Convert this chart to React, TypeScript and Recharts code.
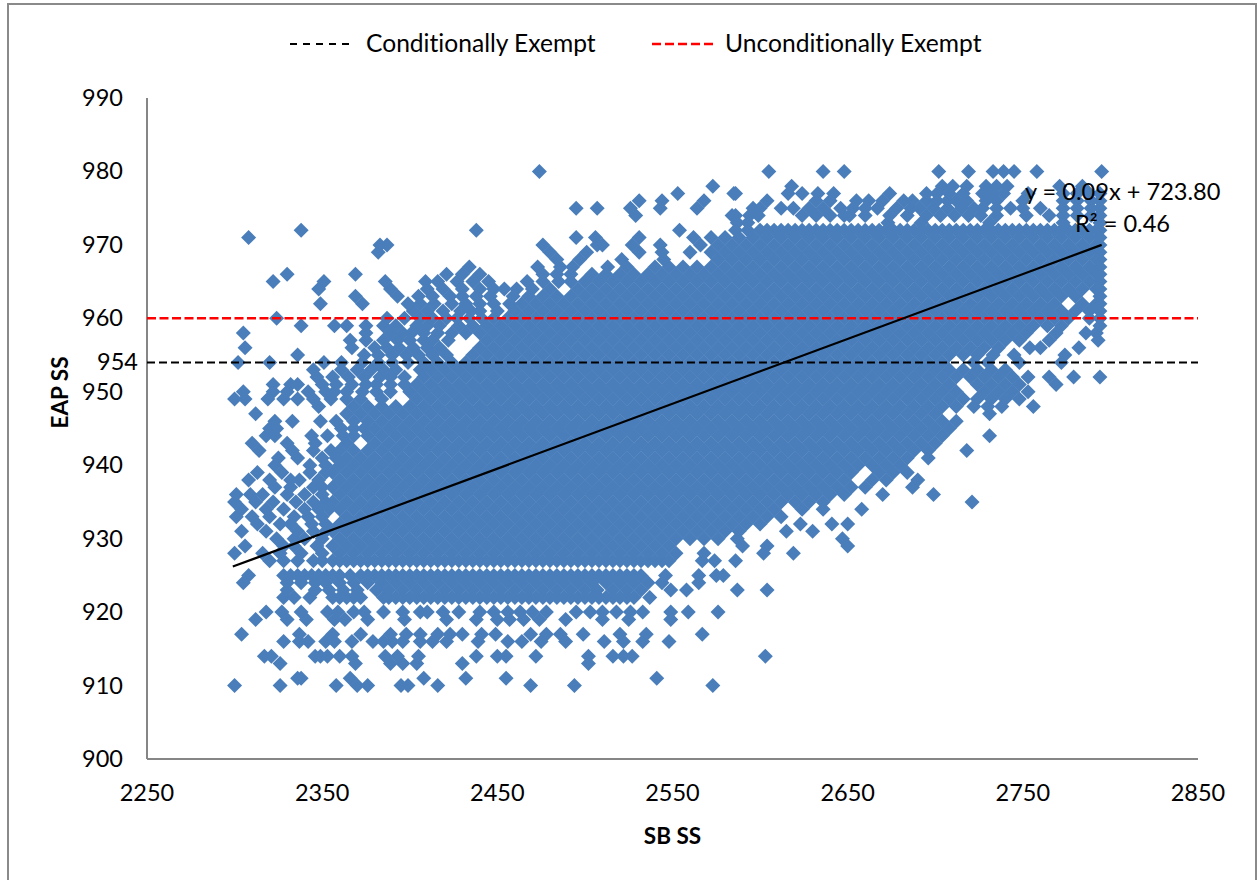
import { Scatter, ScatterChart, XAxis, YAxis } from 'recharts';

const xTicks = [2250, 2350, 2450, 2550, 2650, 2750, 2850];
const yTicks = [900, 910, 920, 930, 940, 950, 954, 960, 970, 980, 990];
const conditionalCut = [{ x: 2250, y: 954 }, { x: 2850, y: 954 }];
const unconditionalCut = [{ x: 2250, y: 960 }, { x: 2850, y: 960 }];
const trendEnds = [{ x: 2299, y: 926.2 }, { x: 2795, y: 970 }];

// each row is [EAP SS, ...SB SS read along that row]; scores are whole numbers so the marks sit in rows.
// the middle of the cloud is solid colour, so those rows are estimates that just cover the area seen.
const sparseLow = [
  [910, 2300, 2326, 2358, 2370, 2376, 2395, 2399, 2416, 2469, 2494, 2573],
  [911, 2336, 2338, 2366, 2408, 2432, 2455, 2541],
  [913, 2326, 2369, 2389, 2396, 2404, 2430, 2502],
  [914, 2317, 2321, 2346, 2349, 2353, 2360, 2367, 2386, 2393, 2405, 2438, 2450, 2455, 2472, 2502, 2516, 2522, 2527, 2603],
  [916, 2328, 2337, 2342, 2352, 2357, 2367, 2379, 2385, 2390, 2396, 2406, 2413, 2421, 2439, 2456, 2464, 2475, 2489, 2511, 2522, 2533, 2548],
  [917, 2304, 2337, 2356, 2372, 2389, 2398, 2406, 2416, 2423, 2430, 2441, 2449, 2469, 2478, 2486, 2499, 2520, 2535, 2567],
  [919, 2312, 2330, 2341, 2357, 2363, 2376, 2397, 2421, 2438, 2450, 2457, 2465, 2474, 2489, 2510, 2525, 2549],
  [920, 2318, 2327, 2338, 2353, 2359, 2368, 2374, 2385, 2396, 2406, 2410, 2419, 2428, 2440, 2448, 2456, 2463, 2470, 2478, 2495, 2503, 2510, 2518, 2526, 2533, 2549, 2559, 2576],
];

const bandLow = [
  [922, 2328, 2334, 2343, 2356, 2360, 2364, 2368, 2372, 2385, 2388, 2392, 2396, 2400, 2404, 2408, 2412, 2416, 2420, 2424, 2428, 2432, 2436, 2440, 2444, 2448, 2452, 2456, 2460, 2464, 2468, 2472, 2476, 2480, 2484, 2488, 2492, 2496, 2500, 2504, 2508, 2512, 2516, 2520, 2524, 2528, 2537],
  [923, 2330, 2346, 2354, 2362, 2370, 2381, 2388, 2396, 2404, 2412, 2420, 2428, 2436, 2444, 2452, 2460, 2468, 2476, 2484, 2492, 2500, 2507, 2516, 2524, 2532, 2549, 2558, 2587, 2604],
  [924, 2305, 2330, 2338, 2346, 2352, 2360, 2368, 2376, 2384, 2392, 2400, 2408, 2416, 2424, 2432, 2440, 2448, 2456, 2464, 2472, 2480, 2488, 2496, 2504, 2512, 2520, 2528, 2536, 2544, 2565],
  [925, 2308, 2328, 2332, 2336, 2340, 2344, 2348, 2352, 2356, 2360, 2366, 2372, 2376, 2380, 2384, 2388, 2392, 2396, 2400, 2404, 2408, 2412, 2416, 2420, 2424, 2428, 2432, 2436, 2440, 2444, 2448, 2452, 2456, 2460, 2464, 2468, 2472, 2476, 2480, 2484, 2488, 2492, 2496, 2500, 2504, 2508, 2512, 2516, 2520, 2524, 2528, 2532, 2546, 2565, 2575, 2579],
];

const coreLow = [
  [927, 2320, 2328, 2336, 2345, 2350, 2356, 2360, 2364, 2368, 2372, 2376, 2380, 2384, 2388, 2392, 2396, 2400, 2404, 2408, 2412, 2416, 2420, 2424, 2428, 2432, 2436, 2440, 2444, 2448, 2452, 2456, 2460, 2464, 2468, 2472, 2476, 2480, 2484, 2488, 2492, 2496, 2500, 2504, 2508, 2512, 2516, 2520, 2524, 2528, 2532, 2536, 2540, 2544, 2548, 2567, 2574, 2586],
  [928, 2300, 2316, 2326, 2338, 2350, 2360, 2368, 2376, 2384, 2392, 2400, 2408, 2416, 2424, 2432, 2440, 2448, 2456, 2464, 2472, 2480, 2488, 2496, 2504, 2512, 2520, 2528, 2536, 2544, 2552, 2568, 2602, 2619],
  [929, 2306, 2328, 2334, 2347, 2356, 2364, 2372, 2380, 2388, 2396, 2404, 2412, 2420, 2428, 2436, 2444, 2452, 2460, 2468, 2476, 2484, 2492, 2500, 2508, 2516, 2524, 2532, 2540, 2548, 2590, 2604, 2650],
  [930, 2324, 2334, 2340, 2350, 2360, 2368, 2376, 2384, 2392, 2400, 2408, 2416, 2424, 2432, 2440, 2448, 2456, 2464, 2472, 2480, 2488, 2496, 2504, 2512, 2520, 2528, 2536, 2544, 2552, 2560, 2568, 2576, 2587, 2647],
  [931, 2304, 2318, 2336, 2345, 2352, 2356, 2364, 2372, 2380, 2388, 2396, 2404, 2412, 2420, 2428, 2436, 2444, 2452, 2460, 2468, 2476, 2484, 2492, 2500, 2508, 2516, 2524, 2532, 2540, 2548, 2556, 2564, 2572, 2580, 2588, 2615, 2630],
  [932, 2313, 2326, 2332, 2344, 2352, 2360, 2368, 2376, 2384, 2392, 2400, 2408, 2416, 2424, 2432, 2440, 2448, 2456, 2464, 2472, 2480, 2488, 2496, 2504, 2512, 2520, 2528, 2536, 2544, 2552, 2560, 2568, 2576, 2584, 2592, 2600, 2623, 2641, 2650],
  [933, 2301, 2310, 2320, 2334, 2342, 2350, 2364, 2372, 2380, 2388, 2396, 2404, 2412, 2420, 2428, 2436, 2444, 2452, 2460, 2468, 2476, 2484, 2492, 2500, 2508, 2516, 2524, 2532, 2540, 2548, 2556, 2564, 2572, 2580, 2588, 2596, 2604, 2612],
  [934, 2304, 2318, 2328, 2340, 2348, 2354, 2360, 2368, 2376, 2384, 2392, 2400, 2408, 2416, 2424, 2432, 2440, 2448, 2456, 2464, 2472, 2480, 2488, 2496, 2504, 2512, 2520, 2528, 2536, 2544, 2552, 2560, 2568, 2576, 2584, 2592, 2600, 2608, 2624, 2636, 2658],
  [935, 2300, 2312, 2322, 2335, 2345, 2352, 2356, 2364, 2372, 2380, 2388, 2396, 2404, 2412, 2420, 2428, 2436, 2444, 2452, 2460, 2468, 2476, 2484, 2492, 2500, 2508, 2516, 2524, 2532, 2540, 2548, 2556, 2564, 2572, 2580, 2588, 2596, 2604, 2612, 2620, 2628, 2636, 2721],
  [936, 2301, 2309, 2316, 2330, 2340, 2350, 2360, 2368, 2376, 2384, 2392, 2400, 2408, 2416, 2424, 2432, 2440, 2448, 2456, 2464, 2472, 2480, 2488, 2496, 2504, 2512, 2520, 2528, 2536, 2544, 2552, 2560, 2568, 2576, 2584, 2592, 2600, 2608, 2616, 2624, 2632, 2640, 2648, 2670, 2699],
  [937, 2323, 2332, 2345, 2350, 2356, 2364, 2372, 2380, 2388, 2396, 2404, 2412, 2420, 2428, 2436, 2444, 2452, 2460, 2468, 2476, 2484, 2492, 2500, 2508, 2516, 2524, 2532, 2540, 2548, 2556, 2564, 2572, 2580, 2588, 2596, 2604, 2612, 2620, 2628, 2636, 2644, 2652, 2660, 2687],
  [938, 2308, 2320, 2332, 2337, 2348, 2360, 2368, 2376, 2384, 2392, 2400, 2408, 2416, 2424, 2432, 2440, 2448, 2456, 2464, 2472, 2480, 2488, 2496, 2504, 2512, 2520, 2528, 2536, 2544, 2552, 2560, 2568, 2576, 2584, 2592, 2600, 2608, 2616, 2624, 2632, 2640, 2648, 2664, 2672, 2690],
  [939, 2313, 2327, 2343, 2352, 2356, 2364, 2372, 2380, 2388, 2396, 2404, 2412, 2420, 2428, 2436, 2444, 2452, 2460, 2468, 2476, 2484, 2492, 2500, 2508, 2516, 2524, 2532, 2540, 2548, 2556, 2564, 2572, 2580, 2588, 2596, 2604, 2612, 2620, 2628, 2636, 2644, 2652, 2668, 2676, 2684],
  [940, 2323, 2343, 2352, 2360, 2368, 2376, 2384, 2392, 2400, 2408, 2416, 2424, 2432, 2440, 2448, 2456, 2464, 2472, 2480, 2488, 2496, 2504, 2512, 2520, 2528, 2536, 2544, 2552, 2560, 2568, 2576, 2584, 2592, 2600, 2608, 2616, 2624, 2632, 2640, 2648, 2656, 2664, 2672, 2680],
  [941, 2325, 2336, 2350, 2358, 2364, 2372, 2380, 2388, 2396, 2404, 2412, 2420, 2428, 2436, 2444, 2452, 2460, 2468, 2476, 2484, 2492, 2500, 2508, 2516, 2524, 2532, 2540, 2548, 2556, 2564, 2572, 2580, 2588, 2596, 2604, 2612, 2620, 2628, 2636, 2644, 2652, 2660, 2668, 2676, 2684, 2696],
  [942, 2314, 2333, 2345, 2355, 2360, 2368, 2376, 2384, 2392, 2400, 2408, 2416, 2424, 2432, 2440, 2448, 2456, 2464, 2472, 2480, 2488, 2496, 2504, 2512, 2520, 2528, 2536, 2544, 2552, 2560, 2568, 2576, 2584, 2592, 2600, 2608, 2616, 2624, 2632, 2640, 2648, 2656, 2664, 2672, 2680, 2688, 2696, 2718],
  [943, 2310, 2330, 2346, 2364, 2380, 2388, 2396, 2404, 2412, 2420, 2428, 2436, 2444, 2452, 2460, 2468, 2476, 2484, 2492, 2500, 2508, 2516, 2524, 2532, 2540, 2548, 2556, 2564, 2572, 2580, 2588, 2596, 2604, 2612, 2620, 2628, 2636, 2644, 2652, 2660, 2668, 2676, 2684, 2692, 2700],
  [944, 2318, 2323, 2344, 2353, 2362, 2368, 2376, 2384, 2392, 2400, 2408, 2416, 2424, 2432, 2440, 2448, 2456, 2464, 2472, 2480, 2488, 2496, 2504, 2512, 2520, 2528, 2536, 2544, 2552, 2560, 2568, 2576, 2584, 2592, 2600, 2608, 2616, 2624, 2632, 2640, 2648, 2656, 2664, 2672, 2680, 2688, 2696, 2704, 2731],
  [945, 2320, 2324, 2361, 2368, 2374, 2380, 2388, 2396, 2404, 2412, 2420, 2428, 2436, 2444, 2452, 2460, 2468, 2476, 2484, 2492, 2500, 2508, 2516, 2524, 2532, 2540, 2548, 2556, 2564, 2572, 2580, 2588, 2596, 2604, 2612, 2620, 2628, 2636, 2644, 2652, 2660, 2668, 2676, 2684, 2692, 2700, 2708],
  [946, 2323, 2333, 2349, 2358, 2368, 2376, 2384, 2392, 2400, 2408, 2416, 2424, 2432, 2440, 2448, 2456, 2464, 2472, 2480, 2488, 2496, 2504, 2512, 2520, 2528, 2536, 2544, 2552, 2560, 2568, 2576, 2584, 2592, 2600, 2608, 2616, 2624, 2632, 2640, 2648, 2656, 2664, 2672, 2680, 2688, 2696, 2704, 2712],
];

const coreMid = [
  [947, 2312, 2364, 2372, 2380, 2388, 2396, 2404, 2412, 2420, 2428, 2436, 2444, 2452, 2460, 2468, 2476, 2484, 2492, 2500, 2508, 2516, 2524, 2532, 2540, 2548, 2556, 2564, 2572, 2580, 2588, 2596, 2604, 2612, 2620, 2628, 2636, 2644, 2652, 2660, 2668, 2676, 2684, 2692, 2700, 2731],
  [948, 2348, 2368, 2376, 2384, 2392, 2400, 2408, 2416, 2424, 2432, 2440, 2448, 2456, 2464, 2472, 2480, 2488, 2496, 2504, 2512, 2520, 2528, 2536, 2544, 2552, 2560, 2568, 2576, 2584, 2592, 2600, 2608, 2616, 2624, 2632, 2640, 2648, 2656, 2664, 2672, 2680, 2688, 2696, 2704, 2712, 2722, 2730, 2738, 2756],
  [949, 2300, 2306, 2319, 2328, 2336, 2345, 2355, 2364, 2372, 2384, 2404, 2412, 2420, 2428, 2436, 2444, 2452, 2460, 2468, 2476, 2484, 2492, 2500, 2508, 2516, 2524, 2532, 2540, 2548, 2556, 2564, 2572, 2580, 2588, 2596, 2604, 2612, 2620, 2628, 2636, 2644, 2652, 2660, 2668, 2676, 2684, 2692, 2700, 2708, 2716, 2724, 2732, 2740, 2748],
  [950, 2305, 2322, 2330, 2342, 2352, 2357, 2364, 2373, 2381, 2389, 2400, 2408, 2416, 2424, 2432, 2440, 2448, 2456, 2464, 2472, 2480, 2488, 2496, 2504, 2512, 2520, 2528, 2536, 2544, 2552, 2560, 2568, 2576, 2584, 2592, 2600, 2608, 2616, 2624, 2632, 2640, 2648, 2656, 2664, 2672, 2680, 2688, 2696, 2704, 2712, 2728, 2736, 2744, 2753],
  [951, 2322, 2332, 2336, 2350, 2358, 2367, 2375, 2381, 2389, 2397, 2404, 2412, 2420, 2428, 2436, 2444, 2452, 2460, 2468, 2476, 2484, 2492, 2500, 2508, 2516, 2524, 2532, 2540, 2548, 2556, 2564, 2572, 2580, 2588, 2596, 2604, 2612, 2620, 2628, 2636, 2644, 2652, 2660, 2668, 2676, 2684, 2692, 2700, 2708, 2724, 2732, 2740, 2748, 2769],
  [952, 2347, 2356, 2365, 2374, 2383, 2389, 2397, 2408, 2416, 2424, 2432, 2440, 2448, 2456, 2464, 2472, 2480, 2488, 2496, 2504, 2512, 2520, 2528, 2536, 2544, 2552, 2560, 2568, 2576, 2584, 2592, 2600, 2608, 2616, 2624, 2632, 2640, 2648, 2656, 2664, 2672, 2680, 2688, 2696, 2704, 2712, 2720, 2728, 2736, 2744, 2753, 2765, 2779, 2794],
  [953, 2345, 2361, 2370, 2378, 2385, 2392, 2406, 2412, 2420, 2428, 2436, 2444, 2452, 2460, 2468, 2476, 2484, 2492, 2500, 2508, 2516, 2524, 2532, 2540, 2548, 2556, 2564, 2572, 2580, 2588, 2596, 2604, 2612, 2620, 2628, 2636, 2644, 2652, 2660, 2668, 2676, 2684, 2692, 2700, 2708, 2716, 2724, 2732, 2740],
  [954, 2302, 2320, 2351, 2361, 2373, 2382, 2390, 2399, 2408, 2416, 2424, 2432, 2440, 2448, 2456, 2464, 2472, 2480, 2488, 2496, 2504, 2512, 2520, 2528, 2536, 2544, 2552, 2560, 2568, 2576, 2584, 2592, 2600, 2608, 2616, 2624, 2632, 2640, 2648, 2656, 2664, 2672, 2680, 2688, 2696, 2704, 2722, 2730, 2748, 2772],
  [955, 2336, 2374, 2382, 2390, 2398, 2405, 2413, 2421, 2436, 2444, 2452, 2460, 2468, 2476, 2484, 2492, 2500, 2508, 2516, 2524, 2532, 2540, 2548, 2556, 2564, 2572, 2580, 2588, 2596, 2604, 2612, 2620, 2628, 2636, 2644, 2652, 2660, 2668, 2676, 2684, 2692, 2700, 2708, 2716, 2724, 2733, 2745, 2774],
  [956, 2306, 2367, 2380, 2387, 2394, 2402, 2410, 2417, 2440, 2448, 2456, 2464, 2472, 2480, 2488, 2496, 2504, 2512, 2520, 2528, 2536, 2544, 2552, 2560, 2568, 2576, 2584, 2592, 2600, 2608, 2616, 2624, 2632, 2640, 2648, 2656, 2664, 2672, 2680, 2688, 2696, 2704, 2712, 2720, 2728, 2736, 2754, 2760, 2782],
  [957, 2366, 2375, 2385, 2393, 2400, 2408, 2413, 2422, 2444, 2452, 2460, 2468, 2476, 2484, 2492, 2500, 2508, 2516, 2524, 2532, 2540, 2548, 2556, 2564, 2572, 2580, 2588, 2596, 2604, 2612, 2620, 2628, 2636, 2644, 2652, 2660, 2668, 2676, 2684, 2692, 2700, 2708, 2716, 2724, 2732, 2740, 2748, 2765, 2793],
  [958, 2305, 2375, 2389, 2396, 2401, 2408, 2416, 2424, 2432, 2440, 2448, 2456, 2464, 2472, 2480, 2488, 2496, 2504, 2512, 2520, 2528, 2536, 2544, 2552, 2560, 2568, 2576, 2584, 2592, 2600, 2608, 2616, 2624, 2632, 2640, 2648, 2656, 2664, 2672, 2680, 2688, 2696, 2704, 2712, 2720, 2728, 2736, 2744, 2752, 2769, 2786, 2792],
  [959, 2338, 2357, 2364, 2375, 2385, 2392, 2404, 2410, 2417, 2428, 2436, 2444, 2452, 2460, 2468, 2476, 2484, 2492, 2500, 2508, 2516, 2524, 2532, 2540, 2548, 2556, 2564, 2572, 2580, 2588, 2596, 2604, 2612, 2620, 2628, 2636, 2644, 2652, 2660, 2668, 2676, 2684, 2692, 2700, 2708, 2716, 2724, 2732, 2740, 2748, 2756, 2764, 2772, 2794],
  [960, 2324, 2387, 2397, 2406, 2413, 2421, 2427, 2434, 2441, 2448, 2456, 2464, 2472, 2480, 2488, 2496, 2504, 2512, 2520, 2528, 2536, 2544, 2552, 2560, 2568, 2576, 2584, 2592, 2600, 2608, 2616, 2624, 2632, 2640, 2648, 2656, 2664, 2672, 2680, 2688, 2696, 2704, 2712, 2720, 2728, 2736, 2744, 2752, 2760, 2768, 2776, 2788, 2794],
];

const coreHigh = [
  [961, 2402, 2410, 2419, 2429, 2435, 2440, 2450, 2460, 2468, 2476, 2484, 2492, 2500, 2508, 2516, 2524, 2532, 2540, 2548, 2556, 2564, 2572, 2580, 2588, 2596, 2604, 2612, 2620, 2628, 2636, 2644, 2652, 2660, 2668, 2676, 2684, 2692, 2700, 2708, 2716, 2724, 2732, 2740, 2748, 2756, 2764, 2772, 2780, 2788, 2794],
  [962, 2349, 2373, 2399, 2406, 2414, 2424, 2432, 2440, 2448, 2457, 2464, 2472, 2480, 2488, 2496, 2504, 2512, 2520, 2528, 2536, 2544, 2552, 2560, 2568, 2576, 2584, 2592, 2600, 2608, 2616, 2624, 2632, 2640, 2648, 2656, 2664, 2672, 2680, 2688, 2696, 2704, 2712, 2720, 2728, 2736, 2744, 2752, 2760, 2768, 2784, 2792, 2794],
  [963, 2369, 2393, 2405, 2413, 2423, 2430, 2438, 2446, 2459, 2468, 2476, 2484, 2492, 2500, 2508, 2516, 2524, 2532, 2540, 2548, 2556, 2564, 2572, 2580, 2588, 2596, 2604, 2612, 2620, 2628, 2636, 2644, 2652, 2660, 2668, 2676, 2684, 2692, 2700, 2708, 2716, 2724, 2732, 2740, 2748, 2756, 2764, 2772, 2780, 2794],
  [964, 2348, 2389, 2410, 2419, 2430, 2440, 2448, 2454, 2461, 2470, 2480, 2496, 2504, 2512, 2520, 2528, 2536, 2544, 2552, 2560, 2568, 2576, 2584, 2592, 2600, 2608, 2616, 2624, 2632, 2640, 2648, 2656, 2664, 2672, 2680, 2688, 2696, 2704, 2712, 2720, 2728, 2736, 2744, 2752, 2760, 2768, 2776, 2784, 2792, 2794],
  [965, 2322, 2351, 2386, 2409, 2416, 2427, 2436, 2445, 2467, 2476, 2485, 2492, 2500, 2508, 2516, 2524, 2532, 2540, 2548, 2556, 2564, 2572, 2580, 2588, 2596, 2604, 2612, 2620, 2628, 2636, 2644, 2652, 2660, 2668, 2676, 2684, 2692, 2700, 2708, 2716, 2724, 2732, 2740, 2748, 2756, 2764, 2772, 2780, 2788, 2794],
  [966, 2330, 2369, 2421, 2430, 2440, 2476, 2484, 2492, 2504, 2512, 2520, 2528, 2536, 2544, 2552, 2560, 2568, 2576, 2584, 2592, 2600, 2608, 2616, 2624, 2632, 2640, 2648, 2656, 2664, 2672, 2680, 2688, 2696, 2704, 2712, 2720, 2728, 2736, 2744, 2752, 2760, 2768, 2776, 2784, 2792, 2794],
  [967, 2434, 2473, 2486, 2493, 2513, 2524, 2540, 2548, 2556, 2564, 2572, 2580, 2588, 2596, 2604, 2612, 2620, 2628, 2636, 2644, 2652, 2660, 2668, 2676, 2684, 2692, 2700, 2708, 2716, 2724, 2732, 2740, 2748, 2756, 2764, 2772, 2780, 2788, 2794],
  [968, 2484, 2497, 2521, 2545, 2576, 2584, 2592, 2600, 2608, 2616, 2624, 2632, 2640, 2648, 2656, 2664, 2672, 2680, 2688, 2696, 2704, 2712, 2720, 2728, 2736, 2744, 2752, 2760, 2768, 2776, 2784, 2792, 2794],
  [969, 2382, 2480, 2501, 2531, 2544, 2560, 2572, 2580, 2588, 2596, 2604, 2612, 2620, 2628, 2636, 2644, 2652, 2660, 2668, 2676, 2684, 2692, 2700, 2708, 2716, 2724, 2732, 2740, 2748, 2756, 2764, 2772, 2780, 2788, 2794],
  [970, 2383, 2387, 2476, 2507, 2510, 2527, 2543, 2566, 2576, 2584, 2592, 2600, 2608, 2616, 2624, 2632, 2640, 2648, 2656, 2664, 2672, 2680, 2688, 2696, 2704, 2712, 2720, 2728, 2736, 2744, 2752, 2760, 2768, 2776, 2784, 2792, 2794],
  [971, 2308, 2495, 2506, 2531, 2562, 2572, 2580, 2588, 2596, 2604, 2612, 2620, 2628, 2636, 2644, 2652, 2660, 2668, 2676, 2684, 2692, 2700, 2708, 2716, 2724, 2732, 2740, 2748, 2756, 2764, 2772, 2780, 2788, 2794],
  [972, 2338, 2438, 2554, 2586, 2593, 2600, 2604, 2608, 2612, 2616, 2620, 2624, 2628, 2632, 2636, 2640, 2644, 2648, 2652, 2656, 2660, 2664, 2668, 2672, 2676, 2680, 2684, 2688, 2692, 2696, 2700, 2704, 2708, 2712, 2716, 2720, 2724, 2728, 2732, 2736, 2740, 2744, 2748, 2752, 2756, 2760, 2764, 2768, 2772, 2776, 2780, 2784, 2788, 2792, 2794],
];

const sparseHigh = [
  [973, 2587, 2593, 2673, 2692, 2731, 2773, 2794],
  [974, 2529, 2584, 2586, 2594, 2599, 2624, 2632, 2640, 2648, 2651, 2660, 2674, 2684, 2695, 2703, 2711, 2719, 2726, 2735, 2752, 2765, 2773, 2781, 2789, 2794],
  [975, 2495, 2507, 2526, 2543, 2564, 2596, 2600, 2612, 2619, 2628, 2636, 2646, 2653, 2660, 2667, 2678, 2686, 2691, 2699, 2707, 2715, 2722, 2727, 2735, 2743, 2750, 2760, 2773, 2781, 2789, 2794],
  [976, 2531, 2544, 2568, 2604, 2632, 2640, 2655, 2662, 2670, 2682, 2687, 2695, 2701, 2707, 2712, 2718, 2729, 2735, 2750, 2773, 2781, 2789, 2794],
  [977, 2553, 2585, 2586, 2616, 2624, 2633, 2642, 2674, 2695, 2701, 2708, 2716, 2727, 2733, 2739, 2753, 2773, 2781, 2788, 2794],
  [978, 2573, 2618, 2704, 2710, 2718, 2729, 2735, 2741, 2771, 2784],
  [980, 2474, 2605, 2636, 2648, 2702, 2719, 2733, 2739, 2745, 2758, 2795],
];

const scorePoints = [sparseLow, bandLow, coreLow, coreMid, coreHigh, sparseHigh].flatMap((rows) =>
  rows.flatMap(([y, ...xs]) => xs.map((x) => ({ x, y }))),
);

const DiamondMark = ({ cx, cy }: { cx?: number; cy?: number }) => (
  <path d={`M${cx} ${(cy ?? 0) - 7.5}L${(cx ?? 0) + 7.5} ${cy}L${cx} ${(cy ?? 0) + 7.5}L${(cx ?? 0) - 7.5} ${cy}Z`} fill="#4A7EBB" />
);
const NoMark = () => <g />;

const YTick = ({ x, y, payload }: { x: number; y: number; payload: { value: number } }) => (
  <text x={payload.value === 954 ? x - 1 : x - 16} y={y} dy={8} textAnchor="end" fontSize={23.5} fill="#000">
    {payload.value}
  </text>
);

export default function App() {
  return (
    <div style={{ position: 'absolute', left: 0, top: 0, width: 1257, height: 880, overflow: 'hidden', background: '#fff', fontFamily: 'Lato', fontVariantLigatures: 'none' }}>
      <div style={{ position: 'absolute', left: 7, top: 3, width: 1246, height: 900, border: '2px solid #8a8a8a' }} />
      <ScatterChart width={1257} height={880} margin={{ top: 98, right: 59, bottom: 41, left: 47 }} style={{ position: 'absolute', left: 0, top: 0 }}>
        <XAxis
          type="number"
          dataKey="x"
          domain={[2250, 2850]}
          ticks={xTicks}
          interval={0}
          height={80}
          tickLine={false}
          tickMargin={19}
          tick={{ fontSize: 23.5, fill: '#000' }}
          axisLine={{ stroke: '#868686', strokeWidth: 2 }}
          label={{ value: 'SB SS', position: 'insideBottom', offset: -5, fontSize: 22.5, fontWeight: 700, fill: '#000' }}
        />
        <YAxis
          type="number"
          dataKey="y"
          domain={[900, 990]}
          ticks={yTicks}
          interval={0}
          width={100}
          tickLine={false}
          tick={YTick}
          axisLine={{ stroke: '#868686', strokeWidth: 2 }}
          label={{ value: 'EAP SS', angle: -90, position: 'insideLeft', offset: 4, dx: 9, fontSize: 22.5, fontWeight: 700, fill: '#000' }}
        />
        <Scatter data={scorePoints} shape={DiamondMark} isAnimationActive={false} />
        <Scatter data={conditionalCut} shape={NoMark} line={{ stroke: '#000', strokeWidth: 2, strokeDasharray: '8 4' }} isAnimationActive={false} />
        <Scatter data={unconditionalCut} shape={NoMark} line={{ stroke: '#f00', strokeWidth: 2.5, strokeDasharray: '9 3.5' }} isAnimationActive={false} />
        <Scatter data={trendEnds} shape={NoMark} line={{ stroke: '#000', strokeWidth: 2.2 }} isAnimationActive={false} />
      </ScatterChart>
      <svg width={1257} height={880} style={{ position: 'absolute', left: 0, top: 0, pointerEvents: 'none' }}>
        <line x1={290} x2={353} y1={44} y2={44} stroke="#000" strokeWidth={2} strokeDasharray="7 6" />
        <text x={366} y={52} fontSize={24.6} fill="#000">Conditionally Exempt</text>
        <line x1={652} x2={715} y1={44} y2={44} stroke="#f00" strokeWidth={2.5} strokeDasharray="9 4" />
        <text x={725} y={52} fontSize={24.6} fill="#000">Unconditionally Exempt</text>
        <text x={1025} y={200} fontSize={23.6} fill="#000">y = 0.09x + 723.80</text>
        <text x={1075} y={232} fontSize={23.6} fill="#000">R² = 0.46</text>
      </svg>
    </div>
  );
}
